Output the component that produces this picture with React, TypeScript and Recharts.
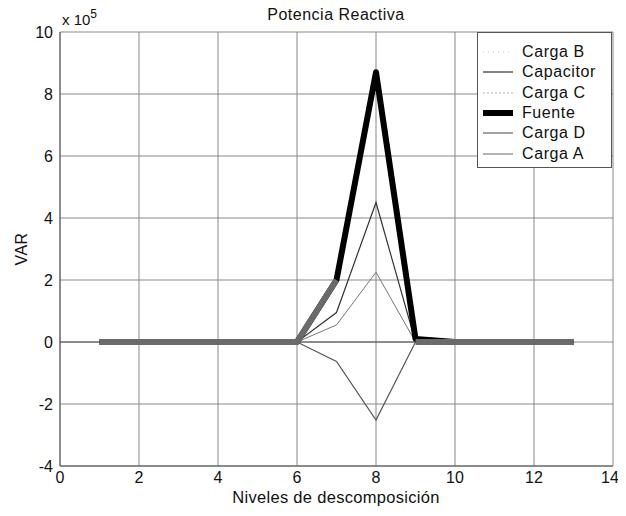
import { CartesianGrid, Legend, Line, LineChart, XAxis, YAxis } from 'recharts';

// decomposition levels (x) and reactive power per load, in VAR
const levels = [0, 1, 2, 3, 4, 5, 6, 7, 8, 9, 10, 11, 12, 13];
const cargaB = [null, 0, 0, 0, 0, 0, 0, 200000, null, 0, 0, 0, 0, 0];
const capacitor = [null, 0, 0, 0, 0, 0, 0, -63000, -252000, 0, 0, 0, 0, 0];
const cargaC = [null, 0, 0, 0, 0, 0, 0, 55000, 225000, 0, 0, 0, 0, 0];
const fuente = [null, 0, 0, 0, 0, 0, 0, 200000, 870000, 10000, 0, 0, 0, 0];
const cargaD = [null, 0, 0, 0, 0, 0, 0, 95000, 450000, 0, 0, 0, 0, 0];
const cargaA = [0, 0, 0, 0, 0, 0, 0, 0, 0, 0, 0, 0, 0, 0];

const xTicks = [0, 2, 4, 6, 8, 10, 12, 14];
const yTicks = [-400000, -200000, 0, 200000, 400000, 600000, 800000, 1000000];

const FONT = '"Liberation Sans", Arial, sans-serif';

const legendItems = [
  { name: 'Carga B', color: '#c8c8c8', width: 1, dash: '1 4' },
  { name: 'Capacitor', color: '#333', width: 1.2, dash: undefined },
  { name: 'Carga C', color: '#b0b0b0', width: 1, dash: '2 2' },
  { name: 'Fuente', color: '#000', width: 6, dash: undefined },
  { name: 'Carga D', color: '#444', width: 1, dash: undefined },
  { name: 'Carga A', color: '#666', width: 1, dash: undefined },
];

function LegendBox() {
  return (
    <div
      style={{
        background: '#fff',
        border: '1px solid #555',
        width: 135,
        height: 136,
        boxSizing: 'border-box',
        paddingTop: 9,
        fontFamily: FONT,
        fontSize: 16,
        letterSpacing: 0.6,
        color: '#111',
      }}
    >
      {legendItems.map((it) => (
        <div key={it.name} style={{ display: 'flex', alignItems: 'center', height: 20.3 }}>
          <svg width={44} height={10} style={{ flex: 'none' }}>
            <line x1={5} x2={35} y1={5} y2={5} stroke={it.color} strokeWidth={it.width} strokeDasharray={it.dash} />
          </svg>
          <span>{it.name}</span>
        </div>
      ))}
    </div>
  );
}

export default function App() {
  const data = levels.map((x, i) => ({
    x,
    cargaB: cargaB[i],
    capacitor: capacitor[i],
    cargaC: cargaC[i],
    fuente: fuente[i],
    cargaD: cargaD[i],
    cargaA: cargaA[i],
  }));

  const tick = { fontSize: 16, fill: '#111', fontFamily: FONT };

  return (
    <div style={{ position: 'relative', width: 610, height: 500, fontFamily: FONT, color: '#111' }}>
      <style>{'body{overflow:hidden}.recharts-surface{overflow:visible}'}</style>
      <div style={{ position: 'absolute', left: 178, top: -2, width: 300, textAlign: 'center', fontSize: 16, letterSpacing: 0.5 }}>
        Potencia Reactiva
      </div>
      <div style={{ position: 'absolute', left: 54, top: 0, fontSize: 15 }}>
        x 10<sup style={{ fontSize: 12, position: 'relative', top: -1 }}>5</sup>
      </div>
      <div
        style={{
          position: 'absolute',
          left: -6,
          top: 232,
          width: 40,
          textAlign: 'center',
          fontSize: 16,
          letterSpacing: 0.4,
          transform: 'rotate(-90deg)',
        }}
      >
        VAR
      </div>
      <div
        style={{
          position: 'absolute',
          left: 178,
          top: 480,
          width: 300,
          textAlign: 'center',
          fontSize: 16.5,
          letterSpacing: 0.3,
        }}
      >
        Niveles de descomposición
      </div>

      <LineChart width={610} height={500} data={data} margin={{ top: 24, right: 5, left: 12, bottom: 12 }}>
        <CartesianGrid stroke="#888" strokeWidth={1} />
        <XAxis
          dataKey="x"
          type="number"
          domain={[0, 14]}
          ticks={xTicks}
          tick={tick}
          tickLine={false}
          tickSize={0}
          tickMargin={6}
          axisLine={{ stroke: '#555' }}
          height={30}
        />
        <YAxis
          type="number"
          domain={[-400000, 1000000]}
          ticks={yTicks}
          tickFormatter={(v: number) => `${v / 100000}`}
          tick={tick}
          tickLine={false}
          tickSize={0}
          tickMargin={7}
          axisLine={{ stroke: '#555' }}
          width={40}
        />
        <Legend
          layout="vertical"
          align="center"
          verticalAlign="middle"
          content={() => <LegendBox />}
          wrapperStyle={{ position: 'absolute', top: 24, left: 469, width: 135 }}
        />
        <Line dataKey="cargaA" name="Carga A" stroke="#555" strokeWidth={1} dot={false} isAnimationActive={false} />
        <Line dataKey="capacitor" name="Capacitor" stroke="#555" strokeWidth={1.2} dot={false} isAnimationActive={false} />
        <Line dataKey="cargaC" name="Carga C" stroke="#777" strokeWidth={1} dot={false} isAnimationActive={false} />
        <Line dataKey="cargaD" name="Carga D" stroke="#333" strokeWidth={1.2} dot={false} isAnimationActive={false} />
        <Line
          dataKey="fuente"
          name="Fuente"
          stroke="#000"
          strokeWidth={6}
          strokeLinejoin="round"
          dot={false}
          isAnimationActive={false}
        />
        <Line
          dataKey="cargaB"
          name="Carga B"
          stroke="#6a6a6a"
          strokeWidth={6}
          strokeLinejoin="round"
          dot={false}
          isAnimationActive={false}
        />
      </LineChart>
    </div>
  );
}
